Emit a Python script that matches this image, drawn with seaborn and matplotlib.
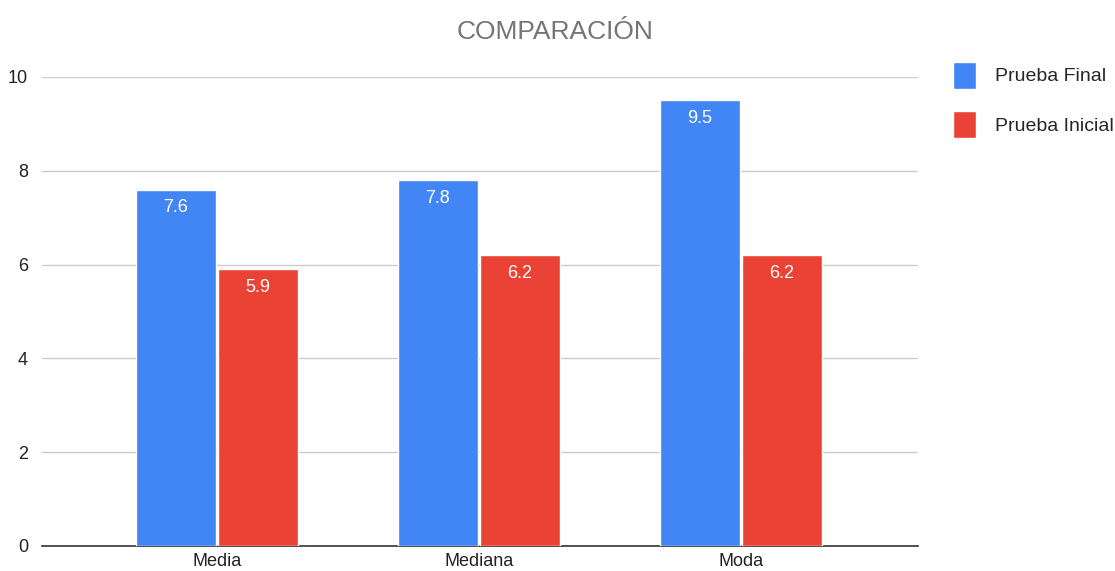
import pandas as pd
import seaborn as sns
import matplotlib.pyplot as plt

# datos
categorias = ["Media", "Mediana", "Moda"]
prueba_final = [7.6, 7.8, 9.5]
prueba_inicial = [5.9, 6.2, 6.2]

df = pd.DataFrame({
    "categoria": categorias * 2,
    "valor": prueba_final + prueba_inicial,
    "serie": ["Prueba Final"] * 3 + ["Prueba Inicial"] * 3,
})

sns.set_style("white")
plt.rcParams["font.family"] = ["Liberation Sans", "DejaVu Sans"]

fig = plt.figure(figsize=(11.15, 5.71), dpi=100)
ax = fig.add_axes([42 / 1115, 1 - 546 / 571, (918 - 42) / 1115, (546 - 77) / 571])

sns.barplot(data=df, x="categoria", y="valor", hue="serie",
            palette=["#4285F4", "#EA4335"], width=0.626, gap=0.03,
            saturation=1, errorbar=None, ax=ax, zorder=3)

for cont in ax.containers:
    ax.bar_label(cont, labels=[f"{v:.1f}" for v in cont.datavalues],
                 padding=-19, color="white", fontsize=13)

ax.set_ylim(0, 10)
ax.set_yticks([0, 2, 4, 6, 8, 10])
ax.set_xlim(-0.668, 2.676)
ax.grid(axis="y", color="#cccccc", linewidth=1, zorder=0)
for s in ["top", "right", "left"]:
    ax.spines[s].set_visible(False)
ax.spines["bottom"].set_color("#333333")
ax.spines["bottom"].set_linewidth(1.2)
ax.tick_params(axis="both", length=0, labelsize=13, colors="#222222")
ax.tick_params(axis="y", pad=10)
ax.tick_params(axis="x", pad=5)
ax.set_xlabel("")
ax.set_ylabel("")

ax.legend(loc="upper left", bbox_to_anchor=(1.02, 1.07), frameon=False,
          fontsize=14, handlelength=1.2, handleheight=1.75, handletextpad=0.95,
          labelspacing=1.15)

fig.suptitle("COMPARACIÓN", x=0.498, y=0.965, fontsize=19, color="#757575")

fig.savefig("out.png", dpi=100)
